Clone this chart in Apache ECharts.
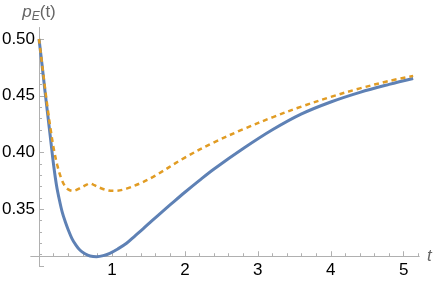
<!DOCTYPE html>
<html>
<head>
<meta charset="utf-8">
<script src="https://cdn.jsdelivr.net/npm/echarts@6/dist/echarts.min.js"></script>
<style>
html,body{margin:0;padding:0;background:#fff;}
#chart{width:437px;height:282px;}
</style>
</head>
<body>
<div id="chart"></div>
<script>
// Solid (blue) curve
var blueT = [0, 0.04, 0.08, 0.12, 0.16, 0.20, 0.24, 0.28, 0.32, 0.36, 0.40, 0.45, 0.50, 0.56, 0.63, 0.70, 0.79, 0.88, 0.97, 1.08, 1.20, 1.31, 1.43, 1.55, 1.66, 1.80, 2.00, 2.20, 2.40, 2.80, 3.20, 3.60, 4.00, 4.40, 4.80, 5.13];
var blueV = [0.500, 0.478, 0.455, 0.433, 0.411, 0.389, 0.371, 0.358, 0.347, 0.339, 0.332, 0.3244, 0.3190, 0.3141, 0.3108, 0.3088, 0.3082, 0.3091, 0.3112, 0.3150, 0.3200, 0.3262, 0.3330, 0.3400, 0.3462, 0.3540, 0.3650, 0.3755, 0.3855, 0.4035, 0.4200, 0.4340, 0.4445, 0.4530, 0.4600, 0.4652];
// Dashed (orange) curve
var orangeT = [0, 0.04, 0.08, 0.12, 0.16, 0.20, 0.25, 0.30, 0.35, 0.40, 0.47, 0.56, 0.64, 0.70, 0.76, 0.85, 0.95, 1.05, 1.20, 1.385, 1.57, 2.00, 2.40, 2.80, 3.20, 3.60, 4.00, 4.40, 4.80, 5.13];
var orangeV = [0.500, 0.479, 0.458, 0.438, 0.420, 0.404, 0.389, 0.378, 0.371, 0.3675, 0.3662, 0.3685, 0.3712, 0.3728, 0.3712, 0.3685, 0.3666, 0.3662, 0.3682, 0.3728, 0.3787, 0.3955, 0.4090, 0.4205, 0.4310, 0.4405, 0.4490, 0.4565, 0.4630, 0.4675];
// Ticks
var xMajor = [1, 2, 3, 4, 5];
var xMinor = [0.2, 0.4, 0.6, 0.8, 1.2, 1.4, 1.6, 1.8, 2.2, 2.4, 2.6, 2.8, 3.2, 3.4, 3.6, 3.8, 4.2, 4.4, 4.6, 4.8, 5.2];
var yMajor = [0.30, 0.35, 0.40, 0.45, 0.50];
var yLabels = [0.35, 0.40, 0.45, 0.50];
var yMinor = [0.31, 0.32, 0.33, 0.34, 0.36, 0.37, 0.38, 0.39, 0.41, 0.42, 0.43, 0.44, 0.46, 0.47, 0.48, 0.49];
var xCross = 0.3086; // value where the t axis crosses the vertical axis

function pairs(t, v) { return t.map(function (x, i) { return [x, v[i]]; }); }

var axisColor = '#b0b0b0';
var font = 'Liberation Sans';
var X_MIN = -0.11, X_MAX = 5.21, Y_MIN = 0.30, Y_MAX = 0.51;
var G = {left: 31, right: 18, top: 27.65, bottom: 16};
var W = 437, H = 282;
var gridW = W - G.left - G.right, gridH = H - G.top - G.bottom;
// axis offsets so that the axes cross at (0, xCross)
var yOff = -(0 - X_MIN) / (X_MAX - X_MIN) * gridW;
var xOff = -(xCross - Y_MIN) / (Y_MAX - Y_MIN) * gridH;

var chart = echarts.init(document.getElementById('chart'), null, {renderer: 'canvas'});
chart.setOption({
  animation: false,
  textStyle: {fontFamily: font},
  grid: {left: G.left, right: G.right, top: G.top, bottom: G.bottom, containLabel: false, outerBoundsMode: 'none'},
  xAxis: [{
    type: 'value', min: X_MIN, max: X_MAX, position: 'bottom', offset: xOff,
    axisLine: {show: true, onZero: false, lineStyle: {color: axisColor, width: 1}},
    axisTick: {show: true, inside: true, length: 5, customValues: xMajor, lineStyle: {color: axisColor}},
    axisLabel: {show: true, customValues: xMajor, margin: 6, color: '#000', fontSize: 17, fontFamily: font},
    splitLine: {show: false},
    name: 't', nameLocation: 'end', nameGap: 8, nameMoveOverlap: false,
    nameTextStyle: {fontStyle: 'italic', color: '#666', fontSize: 17, fontFamily: font}
  }, {
    type: 'value', min: X_MIN, max: X_MAX, position: 'bottom', offset: xOff,
    axisLine: {show: true, onZero: false, lineStyle: {color: axisColor, width: 1}},
    axisTick: {show: true, inside: true, length: 3, customValues: xMinor, lineStyle: {color: axisColor}},
    axisLabel: {show: false},
    splitLine: {show: false}
  }],
  yAxis: [{
    type: 'value', min: Y_MIN, max: Y_MAX, position: 'left', offset: yOff,
    axisLine: {show: true, onZero: false, lineStyle: {color: axisColor, width: 1}},
    axisTick: {show: true, inside: true, length: 5, customValues: yMajor, lineStyle: {color: axisColor}},
    axisLabel: {show: true, customValues: yLabels, margin: 4, color: '#000', fontSize: 17, fontFamily: font,
      formatter: function (v) { return v.toFixed(2); }},
    splitLine: {show: false},
    name: '{p|p}{e|E}{n|(t)}', nameLocation: 'end', nameGap: 5, nameMoveOverlap: false,
    nameTextStyle: {
      color: '#666', fontFamily: font, align: 'center',
      rich: {
        p: {fontStyle: 'italic', fontSize: 17, color: '#666', fontFamily: font, lineHeight: 20},
        e: {fontStyle: 'italic', fontSize: 12, color: '#666', fontFamily: font, lineHeight: 12, verticalAlign: 'bottom'},
        n: {fontSize: 17, color: '#666', fontFamily: font, lineHeight: 20}
      }
    }
  }, {
    type: 'value', min: Y_MIN, max: Y_MAX, position: 'left', offset: yOff,
    axisLine: {show: true, onZero: false, lineStyle: {color: axisColor, width: 1}},
    axisTick: {show: true, inside: true, length: 3, customValues: yMinor, lineStyle: {color: axisColor}},
    axisLabel: {show: false},
    splitLine: {show: false}
  }],
  series: [{
    type: 'line', xAxisIndex: 0, yAxisIndex: 0,
    data: pairs(blueT, blueV),
    showSymbol: false, smooth: 0.35,
    lineStyle: {color: '#5E81B5', width: 3},
    itemStyle: {color: '#5E81B5'}, z: 2
  }, {
    type: 'line', xAxisIndex: 0, yAxisIndex: 0,
    data: pairs(orangeT, orangeV),
    showSymbol: false, smooth: 0.35,
    lineStyle: {color: '#E19C24', width: 2.5, type: [5, 4]},
    itemStyle: {color: '#E19C24'}, z: 3
  }]
});
</script>
</body>
</html>
